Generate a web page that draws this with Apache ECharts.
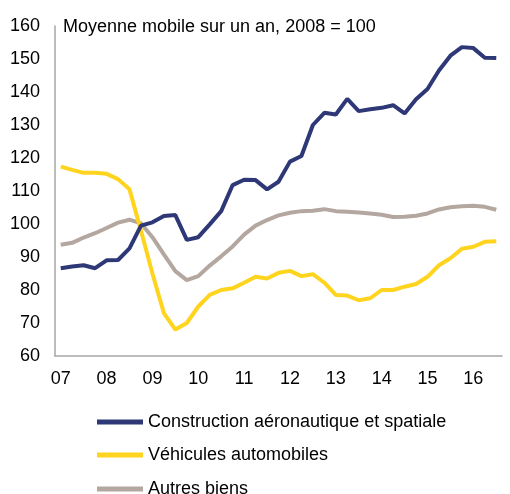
<!DOCTYPE html>
<html>
<head>
<meta charset="utf-8">
<script src="https://cdn.jsdelivr.net/npm/echarts@6/dist/echarts.min.js"></script>
<style>
  html, body { margin: 0; padding: 0; background: #fff; }
  #main { width: 510px; height: 494px; }
</style>
</head>
<body>
<div id="main"></div>
<script>
// années affichées sur l'axe, données trimestrielles 2007T1 -> 2016T3
const years = ['07', '08', '09', '10', '11', '12', '13', '14', '15', '16'];
const quarters = [];
years.forEach(y => { for (let q = 1; q <= 4; q++) quarters.push(y + 'T' + q); });
const categories = quarters.slice(0, 39);

const yTicks = { min: 60, max: 160, step: 10 };

const aeroData = [
  86.6, 87.1, 87.5, 86.6, 89.0, 89.1, 92.6, 99.5, 100.5, 102.4,
  102.7, 95.2, 96.0, 99.9, 103.9, 111.8, 113.4, 113.3, 110.5, 112.8,
  118.9, 120.6, 130.0, 133.7, 133.2, 137.9, 134.2, 134.8, 135.2, 136.0,
  133.5, 137.8, 140.9, 146.5, 151.0, 153.6, 153.3, 150.4, 150.3
];
const autoData = [
  117.4, 116.4, 115.5, 115.5, 115.2, 113.6, 110.5, 98.0, 85.0, 73.0,
  68.0, 70.0, 75.0, 78.5, 80.0, 80.5, 82.2, 84.0, 83.5, 85.2,
  85.8, 84.2, 84.8, 82.2, 78.5, 78.3, 76.9, 77.5, 80.0, 80.0,
  81.0, 81.8, 84.0, 87.5, 89.6, 92.5, 93.1, 94.6, 94.8
];
const autresData = [
  93.7, 94.3, 95.9, 97.2, 98.8, 100.4, 101.3, 100.2, 96.0, 90.8,
  85.7, 83.0, 84.2, 87.4, 90.2, 93.2, 96.8, 99.5, 101.2, 102.6,
  103.4, 103.9, 104.0, 104.5, 103.9, 103.7, 103.5, 103.2, 102.8, 102.1,
  102.2, 102.5, 103.2, 104.4, 105.1, 105.4, 105.5, 105.2, 104.3
];
const seriesNames = ['Construction aéronautique et spatiale', 'Véhicules automobiles', 'Autres biens'];

const colors = ['#2E3877', '#FFD41F', '#B4A79F'];
const font = 'Liberation Sans, Arial, sans-serif';

let chart = echarts.init(document.getElementById('main'));

// une légende par série, sinon elle passe sur deux colonnes (le bas est coupé)
const legendTops = [413, 446, 480];
const legends = seriesNames.map((n, i) => ({
  data: [n],
  orient: 'vertical',
  left: 97,
  top: legendTops[i],
  padding: 0,
  itemWidth: 46,
  itemHeight: 5,
  icon: 'rect',
  textStyle: { fontFamily: font, fontSize: 18, color: '#000' }
}));

let option = {
  animation: false,
  color: colors,
  title: {
    text: 'Moyenne mobile sur un an, 2008 = 100',
    left: 63,
    top: 18,
    padding: 0,
    textStyle: { fontFamily: font, fontSize: 18, fontWeight: 'normal', color: '#000' }
  },
  legend: legends,
  grid: {
    left: 55,
    right: 8,
    top: 26,
    bottom: 138,
    containLabel: false
  },
  xAxis: {
    type: 'category',
    data: categories,
    boundaryGap: true,
    axisLine: { lineStyle: { color: '#A6A6A6', width: 1.5 } },
    axisTick: { show: false },
    axisLabel: {
      interval: 3,
      margin: 14,
      fontFamily: font,
      fontSize: 18,
      color: '#000',
      formatter: v => v.slice(0, 2)
    }
  },
  yAxis: {
    type: 'value',
    min: yTicks.min,
    max: yTicks.max,
    interval: yTicks.step,
    axisLine: { show: true, lineStyle: { color: '#A6A6A6', width: 1.5 } },
    axisTick: { show: false },
    splitLine: { show: false },
    axisLabel: { margin: 15, fontFamily: font, fontSize: 18, color: '#000' }
  },
  series: seriesNames.map((n, i) => ({
    name: n,
    type: 'line',
    data: [aeroData, autoData, autresData][i],
    symbol: 'none',
    lineStyle: { width: 4 },
    z: 3 - i
  }))
};

chart.setOption(option);
</script>
</body>
</html>
